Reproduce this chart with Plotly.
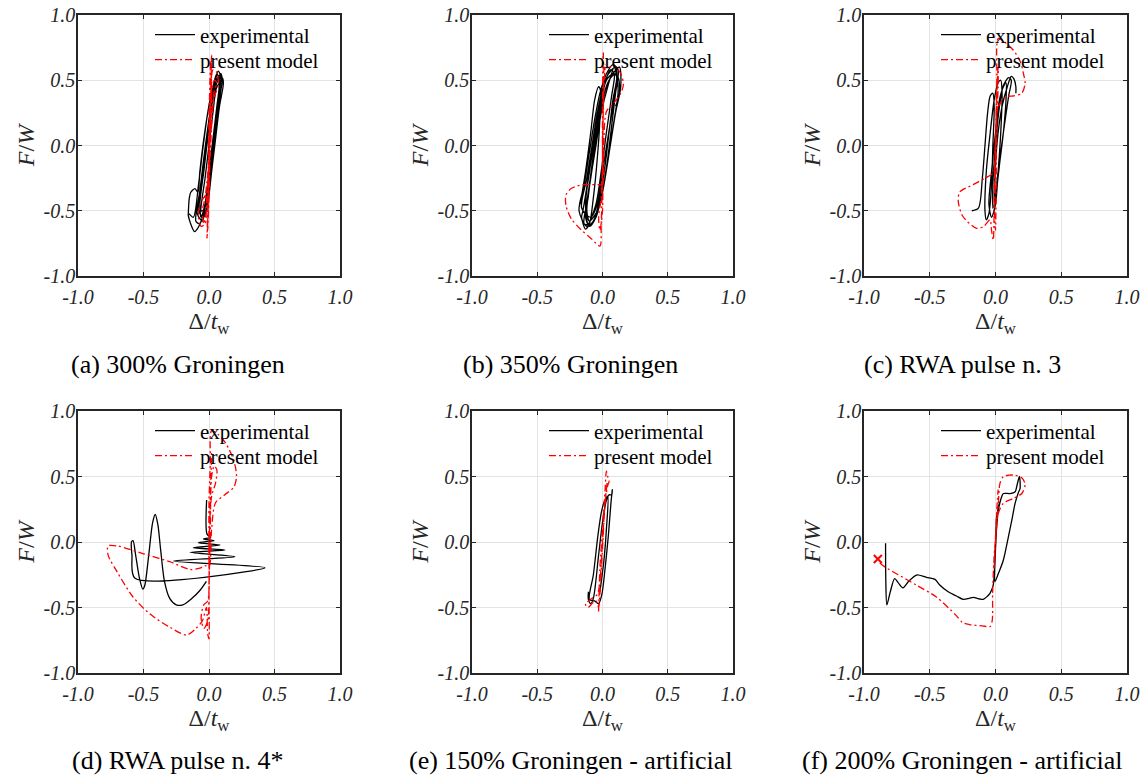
import plotly.graph_objects as go

# ---------------- data ----------------
tick_vals = [-1.0, -0.5, 0.0, 0.5, 1.0]
tick_text = ["-1.0", "-0.5", "0.0", "0.5", "1.0"]
legend_names = ["experimental", "present model"]
captions = ["(a) 300% Groningen", "(b) 350% Groningen", "(c) RWA pulse n. 3",
            "(d) RWA pulse n. 4*", "(e) 150% Groningen - artificial",
            "(f) 200% Groningen - artificial"]

# (a) 300% Groningen
exp_a_x = [-0.158, -0.15, -0.14, -0.107, -0.085, -0.07, -0.04, 0.0, 0.04, 0.07, 0.10, 0.09, 0.06, 0.03, 0.0, -0.03, -0.06, -0.09, -0.11, -0.14, -0.158,
           -0.12, -0.08, -0.05, -0.01, 0.03, 0.06, 0.08, 0.06, 0.03, 0.0, -0.03, -0.07,
           -0.10, -0.07, -0.04, 0.0, 0.04, 0.07, 0.09, 0.07, 0.04, 0.01, -0.02, -0.05,
           -0.09, -0.06, -0.03, 0.01, 0.05, 0.10, 0.11, 0.08, 0.05, 0.02, -0.01, -0.04,
           -0.08, -0.05, -0.02, 0.02, 0.05, 0.08, 0.07, 0.04, 0.01, -0.02, -0.06,
           -0.07, -0.04, -0.01, 0.02, 0.05, 0.09, 0.10, 0.07, 0.04, 0.01, -0.02, -0.05,
           -0.06, -0.03, 0.0, 0.03, 0.06, 0.11]
exp_a_y = [-0.52, -0.40, -0.36, -0.33, -0.36, -0.20, 0.05, 0.30, 0.46, 0.52, 0.52, 0.42, 0.20, -0.05, -0.30, -0.48, -0.58, -0.64, -0.66, -0.60, -0.52,
           -0.55, -0.30, -0.05, 0.25, 0.45, 0.55, 0.50, 0.30, 0.05, -0.20, -0.45, -0.60,
           -0.58, -0.35, -0.10, 0.20, 0.45, 0.57, 0.53, 0.35, 0.10, -0.15, -0.40, -0.58,
           -0.52, -0.30, -0.05, 0.25, 0.50, 0.52, 0.48, 0.30, 0.05, -0.20, -0.45, -0.55,
           -0.50, -0.25, 0.0, 0.30, 0.48, 0.50, 0.35, 0.10, -0.15, -0.40, -0.55,
           -0.45, -0.20, 0.05, 0.30, 0.45, 0.55, 0.50, 0.30, 0.05, -0.20, -0.45, -0.50,
           -0.50, -0.25, 0.0, 0.25, 0.45, 0.51]
mod_a_x = [0.0, 0.01, 0.02, 0.015, 0.005, -0.005, -0.015, -0.005, 0.005, 0.015, 0.03, 0.06, 0.07, 0.05, 0.03, 0.01, -0.01, -0.04, -0.07, -0.08, -0.06,
           -0.03, -0.02, 0.0, 0.01, 0.04, 0.06, 0.04, 0.02, 0.0, -0.02, -0.04, -0.05, -0.03, 0.0, 0.02, 0.013, 0.0, -0.005, -0.01, 0.0, 0.01, 0.015]
mod_a_y = [0.0, 0.35, 0.69, 0.45, 0.10, -0.30, -0.71, -0.45, 0.0, 0.40, 0.58, 0.56, 0.45, 0.40, 0.30, -0.05, -0.35, -0.40, -0.45, -0.55, -0.62,
           -0.60, -0.45, -0.10, 0.30, 0.50, 0.48, 0.42, 0.20, -0.20, -0.50, -0.60, -0.50, -0.40, -0.10, 0.40, 0.65, 0.20, -0.30, -0.65, -0.40, 0.10, 0.50]

# (b) 350% Groningen
exp_b_x = [-0.17, -0.13, -0.09, -0.06, -0.03, -0.015, -0.02, -0.04, -0.07, -0.10, -0.13, -0.16,
           -0.15, -0.11, -0.07, -0.03, 0.02, 0.07, 0.10, 0.11, 0.08, 0.05, 0.02, -0.02, -0.07, -0.12,
           -0.18, -0.14, -0.10, -0.06, -0.02, 0.03, 0.08, 0.12, 0.10, 0.07, 0.04, 0.0, -0.05, -0.10,
           -0.13, -0.10, -0.06, -0.02, 0.03, 0.08, 0.13, 0.14, 0.10, 0.06, 0.02, -0.02, -0.08,
           -0.14, -0.11, -0.08, -0.04, 0.0, 0.05, 0.10, 0.12, 0.09, 0.05, 0.01, -0.04, -0.10,
           -0.12, -0.09, -0.05, -0.01, 0.04, 0.09, 0.11, 0.08, 0.04, 0.0, -0.04, -0.09,
           -0.16, -0.12, -0.08, -0.04, 0.01, 0.06, 0.09, 0.07, 0.03, -0.01, -0.05, -0.11,
           -0.13, -0.10, -0.06, -0.02, 0.03, 0.08, 0.12, 0.13, 0.10]
exp_b_y = [-0.45, -0.20, 0.10, 0.35, 0.45, 0.42, 0.20, -0.10, -0.40, -0.60, -0.64, -0.55,
           -0.50, -0.25, 0.05, 0.30, 0.50, 0.58, 0.60, 0.52, 0.35, 0.10, -0.15, -0.40, -0.58, -0.62,
           -0.50, -0.30, -0.05, 0.20, 0.40, 0.55, 0.62, 0.58, 0.40, 0.15, -0.10, -0.35, -0.55, -0.62,
           -0.55, -0.30, 0.0, 0.25, 0.45, 0.55, 0.60, 0.45, 0.25, 0.0, -0.25, -0.45, -0.60,
           -0.60, -0.40, -0.15, 0.10, 0.35, 0.50, 0.55, 0.42, 0.20, -0.05, -0.30, -0.50, -0.58,
           -0.50, -0.25, 0.0, 0.25, 0.45, 0.60, 0.50, 0.30, 0.05, -0.20, -0.45, -0.55,
           -0.48, -0.25, 0.0, 0.25, 0.45, 0.58, 0.55, 0.38, 0.10, -0.20, -0.45, -0.60,
           -0.45, -0.20, 0.05, 0.30, 0.50, 0.55, 0.52, 0.40, 0.30]
mod_b_x = [0.0, 0.0, 0.006, 0.015, 0.06, 0.10, 0.14, 0.16, 0.14, 0.09, 0.03, 0.01, 0.0, -0.02, -0.08, -0.15, -0.24, -0.28, -0.28, -0.24, -0.17, -0.09, -0.02,
           -0.01, 0.0, 0.005, 0.01, 0.005, -0.01, -0.03, -0.02, 0.0, 0.0, 0.01, 0.02]
mod_b_y = [-0.10, 0.30, 0.71, 0.60, 0.60, 0.60, 0.55, 0.47, 0.40, 0.33, 0.26, 0.0, -0.30, -0.30, -0.30, -0.30, -0.33, -0.38, -0.46, -0.56, -0.64, -0.71, -0.77,
           -0.60, -0.20, 0.30, 0.60, 0.20, -0.40, -0.55, -0.65, -0.50, 0.0, 0.40, 0.62]

# (c) RWA pulse n. 3
exp_c_x = [-0.18, -0.13, -0.10, -0.08, -0.06, -0.04, -0.02, -0.01, -0.02, -0.03, -0.05, -0.07, -0.08,
           -0.07, -0.04, -0.01, 0.02, 0.04, 0.05, 0.04, 0.02, 0.0, -0.03, -0.05,
           -0.03, 0.0, 0.03, 0.06, 0.08, 0.08, 0.06, 0.03, 0.0, -0.02,
           -0.02, 0.0, 0.03, 0.06, 0.10, 0.12, 0.10, 0.06, 0.02, -0.01,
           0.01, 0.05, 0.09, 0.12, 0.14, 0.155, 0.155]
exp_c_y = [-0.50, -0.48, -0.25, 0.0, 0.25, 0.38, 0.40, 0.30, 0.0, -0.30, -0.52, -0.57, -0.50,
           -0.20, 0.10, 0.35, 0.48, 0.50, 0.40, 0.10, -0.20, -0.45, -0.55, -0.45,
           -0.20, 0.10, 0.35, 0.45, 0.48, 0.35, 0.10, -0.15, -0.40, -0.48,
           -0.30, 0.0, 0.30, 0.46, 0.52, 0.50, 0.38, 0.10, -0.20, -0.45,
           0.0, 0.30, 0.45, 0.53, 0.51, 0.45, 0.40]
mod_c_x = [0.0, 0.01, 0.021, 0.06, 0.136, 0.19, 0.212, 0.225, 0.20, 0.14, 0.085, 0.021, 0.0, -0.017, -0.08, -0.17, -0.27, -0.284, -0.25, -0.144, -0.09, -0.042, -0.03, -0.017,
           -0.01, 0.0, 0.01, 0.02, 0.02, 0.0, -0.01, 0.0, 0.005, 0.01, 0.015]
mod_c_y = [0.0, 0.50, 0.82, 0.80, 0.73, 0.64, 0.553, 0.477, 0.40, 0.38, 0.374, 0.297, 0.0, -0.21, -0.25, -0.30, -0.354, -0.418, -0.54, -0.635, -0.62, -0.57, -0.65, -0.724,
           -0.50, -0.10, 0.40, 0.60, 0.45, 0.0, -0.45, -0.65, -0.30, 0.30, 0.55]

# (d) RWA pulse n. 4*
exp_d_x = [-0.018, -0.015, 0.013, -0.043, 0.038, -0.081, 0.084, -0.12, 0.122, -0.145, 0.198, -0.272, 0.427,
           -0.565, -0.588, -0.592, -0.58, -0.56, -0.53, -0.505, -0.49, -0.46, -0.43, -0.41, -0.39, -0.37, -0.34, -0.30, -0.25, -0.20, -0.13, -0.07, -0.02]
exp_d_y = [0.32, 0.06, 0.035, 0.023, 0.01, -0.005, -0.023, -0.043, -0.061, -0.079, -0.112, -0.145, -0.196,
           -0.277, -0.10, 0.0, 0.01, -0.10, -0.28, -0.36, -0.33, -0.10, 0.15, 0.21, 0.13, -0.05, -0.30, -0.43, -0.48, -0.48, -0.43, -0.37, -0.30]
mod_d_x = [0.0, 0.0, 0.01, 0.02, 0.07, 0.13, 0.19, 0.21, 0.19, 0.12, 0.05, 0.02, 0.0, -0.03, -0.07, -0.145, -0.30, -0.50, -0.70, -0.77, -0.77, -0.70, -0.58, -0.45, -0.30, -0.17, -0.10, -0.05, -0.02,
           -0.01, 0.0, 0.0, 0.01, 0.02, 0.04, 0.06, 0.05, 0.02, 0.0, -0.01, -0.04, -0.06, -0.04, -0.01, 0.0, 0.01, 0.02]
mod_d_y = [-0.20, 0.30, 0.60, 0.85, 0.82, 0.75, 0.62, 0.50, 0.42, 0.36, 0.30, 0.10, -0.19, -0.18, -0.20, -0.21, -0.15, -0.09, -0.03, -0.03, -0.10, -0.23, -0.42, -0.55, -0.65, -0.71, -0.66, -0.60, -0.50,
           -0.70, -0.74, -0.40, 0.10, 0.50, 0.58, 0.55, 0.45, 0.35, 0.0, -0.45, -0.48, -0.58, -0.66, -0.60, -0.30, 0.30, 0.70]

# (e) 150% Groningen - artificial
exp_e_x = [-0.108, -0.108, -0.09, -0.07, -0.03, 0.0, 0.03, 0.05, 0.07, 0.075, 0.065, 0.045, 0.02, -0.005, -0.03, -0.06, -0.10,
           -0.07, -0.035, -0.01, 0.01, 0.04, 0.03, 0.01, -0.02]
exp_e_y = [-0.38, -0.44, -0.47, -0.43, -0.10, 0.15, 0.32, 0.36, 0.36, 0.40, 0.30, 0.05, -0.20, -0.40, -0.47, -0.45, -0.44,
           -0.25, 0.05, 0.22, 0.30, 0.35, 0.10, -0.15, -0.38]
mod_e_x = [-0.03, -0.02, 0.0, 0.02, 0.03, 0.04, 0.05, 0.04, 0.02, 0.0, -0.02, -0.04, -0.08, -0.12, -0.13, -0.11, -0.08, -0.05, -0.03,
           -0.02, 0.0, 0.02, 0.035]
mod_e_y = [-0.53, -0.20, 0.10, 0.40, 0.54, 0.50, 0.46, 0.43, 0.30, 0.0, -0.30, -0.40, -0.43, -0.46, -0.48, -0.50, -0.47, -0.45, -0.50,
           -0.40, -0.05, 0.30, 0.45]

# (f) 200% Groningen - artificial
exp_f_x = [-0.836, -0.834, -0.826, -0.80, -0.767, -0.74, -0.704, -0.66, -0.60, -0.525, -0.46, -0.424, -0.36, -0.297, -0.245, -0.20, -0.169, -0.12, -0.093, -0.042, -0.017,
           -0.004, 0.009, 0.022, 0.047, 0.06, 0.11, 0.15, 0.161, 0.182, 0.187, 0.175, 0.149, 0.125, 0.098, 0.06, 0.022, -0.004, 0.0, 0.01, 0.03]
exp_f_y = [-0.01, -0.30, -0.48, -0.38, -0.28, -0.31, -0.35, -0.30, -0.252, -0.27, -0.285, -0.328, -0.38, -0.412, -0.438, -0.43, -0.422, -0.435, -0.438, -0.392, -0.328,
           -0.137, 0.117, 0.244, 0.346, 0.37, 0.37, 0.384, 0.422, 0.50, 0.41, 0.38, 0.295, 0.17, 0.04, -0.137, -0.24, -0.30, -0.05, 0.20, 0.30]
mod_f_x = [-0.88, -0.844, -0.60, -0.45, -0.30, -0.25, -0.20, -0.10, -0.04, -0.025, -0.022, -0.012, 0.01, 0.022, 0.034, 0.06, 0.10, 0.15, 0.20, 0.225, 0.20, 0.136, 0.06, 0.022,
           0.0, -0.01, -0.004, 0.01, 0.02]
mod_f_y = [-0.16, -0.188, -0.33, -0.42, -0.56, -0.615, -0.63, -0.64, -0.645, -0.60, -0.392, -0.137, 0.15, 0.30, 0.448, 0.50, 0.51, 0.51, 0.49, 0.44, 0.37, 0.333, 0.295, 0.219,
           0.0, -0.20, -0.05, 0.25, 0.40]
collapse_f_x = [-0.895]
collapse_f_y = [-0.13]

panels = [(exp_a_x, exp_a_y, mod_a_x, mod_a_y),
          (exp_b_x, exp_b_y, mod_b_x, mod_b_y),
          (exp_c_x, exp_c_y, mod_c_x, mod_c_y),
          (exp_d_x, exp_d_y, mod_d_x, mod_d_y),
          (exp_e_x, exp_e_y, mod_e_x, mod_e_y),
          (exp_f_x, exp_f_y, mod_f_x, mod_f_y)]

# ---------------- layout geometry (screen pixels) ----------------
W, H = 1145, 778
col_px = [(78, 340), (472, 733), (864, 1127)]
row_px = [(15, 276), (411, 673)]
cap_cx = [178, 570, 962]
cap_cy = [365, 760]
leg_x = [150, 544, 936]
leg_rows = [(35, 60), (431, 456)]


def px_x(p):
    return p / W


def px_y(p):
    return 1 - p / H


SERIF = "Liberation Serif, Times New Roman, Times, serif"
AX_COLOR = "#262626"
RED = "#ff0000"

fig = go.Figure()
layout = dict(width=W, height=H, margin=dict(l=0, r=0, t=0, b=0, autoexpand=False),
              paper_bgcolor="white", plot_bgcolor="white", annotations=[],
              font=dict(family=SERIF))

for i, (ex, ey, mx, my) in enumerate(panels):
    r, c = divmod(i, 3)
    k = i + 1
    xs = "" if k == 1 else str(k)
    lg1 = "legend" if k == 1 else f"legend{2 * k - 1}"
    lg2 = f"legend{2 * k}"
    fig.add_trace(go.Scatter(x=ex, y=ey, mode="lines", name=legend_names[0],
                             line=dict(color="black", width=1.3, shape="spline", smoothing=0.8),
                             xaxis="x" + xs, yaxis="y" + xs, legend=lg1))
    fig.add_trace(go.Scatter(x=mx, y=my, mode="lines", name=legend_names[1],
                             line=dict(color=RED, width=1.3, dash="7px,3px,2px,3px", shape="spline", smoothing=0.8),
                             xaxis="x" + xs, yaxis="y" + xs, legend=lg2))
    if k == 6:
        fig.add_trace(go.Scatter(x=collapse_f_x, y=collapse_f_y, mode="markers", showlegend=False,
                                 marker=dict(symbol="x-thin", size=8, line=dict(width=2, color=RED)),
                                 xaxis="x6", yaxis="y6"))
    x0, x1 = col_px[c]
    y0, y1 = row_px[r]
    axis_common = dict(range=[-1, 1], tickvals=tick_vals, ticktext=tick_text,
                       showline=True, mirror="ticks", linecolor=AX_COLOR, linewidth=1.5,
                       ticks="inside", ticklen=4, tickcolor=AX_COLOR, tickwidth=1.2,
                       showgrid=True, gridcolor="#e3e3e3", gridwidth=1, zeroline=False,
                       tickfont=dict(family=SERIF, size=20, color=AX_COLOR, style="italic"),
                       ticklabeloverflow="allow",
                       fixedrange=True, automargin=False)
    layout["xaxis" + xs] = dict(axis_common, domain=[px_x(x0), px_x(x1)], anchor="y" + xs,
                                ticklabelstandoff=2,
                                title=dict(text="Δ/<i>t</i><sub>w</sub>", standoff=2,
                                           font=dict(family=SERIF, size=24, color=AX_COLOR)))
    layout["yaxis" + xs] = dict(axis_common, domain=[px_y(y1), px_y(y0)], anchor="x" + xs,
                                ticklabelstandoff=-3,
                                title=dict(text="<i>F</i>/<i>W</i>", standoff=2,
                                           font=dict(family=SERIF, size=24, color=AX_COLOR)))
    for lg, ry in ((lg1, leg_rows[r][0]), (lg2, leg_rows[r][1])):
        layout[lg] = dict(x=px_x(leg_x[c]), y=px_y(ry), xanchor="left", yanchor="middle",
                          bgcolor="rgba(0,0,0,0)", borderwidth=0, itemwidth=40,
                          font=dict(family=SERIF, size=21, color="black"))
    layout["annotations"].append(dict(text=captions[i], x=px_x(cap_cx[c]), y=px_y(cap_cy[r]),
                                      xref="paper", yref="paper", xanchor="center", yanchor="middle",
                                      showarrow=False, font=dict(family=SERIF, size=26, color="black")))

fig.update_layout(**layout)
# remove the browser's default 8px page margin so the figure fills the window exactly
fig.write_html("out.html", config={"displayModeBar": False},
               post_script="document.body.style.margin='0px';")
